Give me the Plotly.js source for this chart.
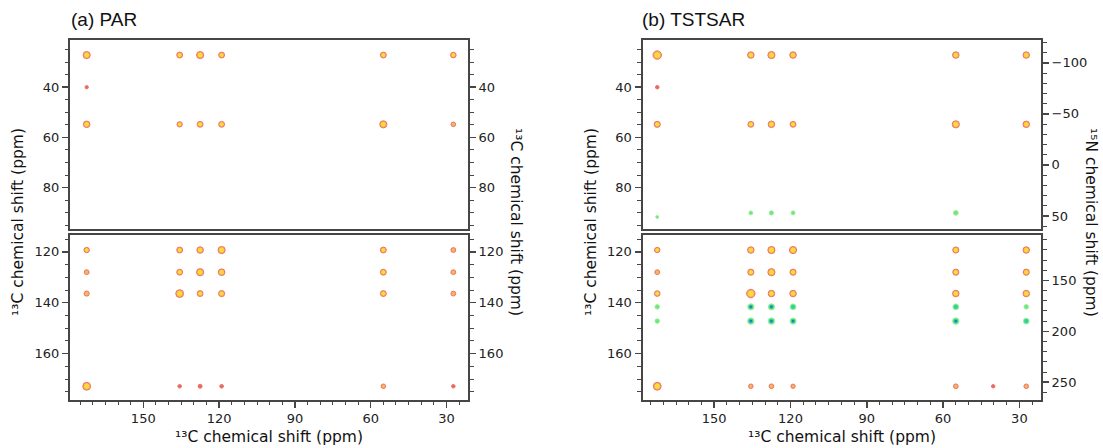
<!DOCTYPE html>
<html><head><meta charset="utf-8">
<script src="https://cdn.plot.ly/plotly-3.0.1.min.js"></script>
<style>html,body{margin:0;padding:0;background:#fff}#chart{width:1103px;height:448px}</style>
</head><body><div id="chart"></div>
<script>
// ---------------- data (ppm) ----------------
// (a) PAR, upper 13C window
const PAR_TOP_X = [172.4,135.6,127.5,119.0,55.0,27.3, 172.4, 172.4,135.6,127.5,119.0,55.0,27.3];
const PAR_TOP_Y = [27.2,27.2,27.2,27.2,27.2,27.2, 40.0, 54.8,54.8,54.8,54.8,54.8,54.8];
const PAR_TOP_I = [4,3,4,3,3,2.8, 1, 3.5,2.6,3,3,4,2];
// (a) PAR, lower 13C window
const PAR_BOT_X = [172.4,135.6,127.5,119.0,55.0,27.3, 172.4,135.6,127.5,119.0,55.0,27.3,
                   172.4,135.6,127.5,119.0,55.0,27.3, 172.4,135.6,127.5,119.0,55.0,27.3];
const PAR_BOT_Y = [119.3,119.3,119.3,119.3,119.3,119.3, 128.0,128.0,128.0,128.0,128.0,128.0,
                   136.4,136.4,136.4,136.4,136.4,136.4, 172.8,172.8,172.8,172.8,172.8,172.8];
const PAR_BOT_I = [2.6,3,3.5,4,3,2.2, 2.2,3,4,3.6,3,2.2, 2.4,4.5,3,3.2,3,2.2, 4.5,1.2,1.5,1.3,2,1.2];
// (b) TSTSAR, upper 13C window
const TST_TOP_X = [172.4,135.6,127.5,119.0,55.0,27.3, 172.4, 172.4,135.6,127.5,119.0,55.0,27.3];
const TST_TOP_Y = [27.2,27.2,27.2,27.2,27.2,27.2, 40.0, 54.8,54.8,54.8,54.8,54.8,54.8];
const TST_TOP_I = [5,3.5,4,3.5,3.5,3.5, 1.2, 3.2,3,3.5,3,4,3.5];
// (b) TSTSAR, 15N cross peaks, upper window (15N ppm)
const TST_TOP_N_X = [172.4,135.6,127.5,119.0,55.0];
const TST_TOP_N_Y = [51,47,47,47,47];
const TST_TOP_N_I = [0.8,1.5,1.8,1.6,2.2];
// (b) TSTSAR, lower 13C window
const TST_BOT_X = [172.4,135.6,127.5,119.0,55.0,27.3, 172.4,135.6,127.5,119.0,55.0,27.3,
                   172.4,135.6,127.5,119.0,55.0,27.3, 172.4,135.6,127.5,119.0,55.0,40.3,27.3];
const TST_BOT_Y = [119.3,119.3,119.3,119.3,119.3,119.3, 128.0,128.0,128.0,128.0,128.0,128.0,
                   136.4,136.4,136.4,136.4,136.4,136.4, 172.8,172.8,172.8,172.8,172.8,172.8,172.8];
const TST_BOT_I = [2.6,3.5,4,4,3.2,3.5, 2.2,3.2,4,3.2,3.2,3.2, 2.8,5,3.5,3.5,3.5,3.5, 4.5,2,2.1,1.8,2.1,1.1,2];
// (b) TSTSAR, 15N cross peaks, lower window (15N ppm)
const TST_BOT_N_X = [172.4,135.6,127.5,119.0,55.0,27.3, 172.4,135.6,127.5,119.0,55.0,27.3];
const TST_BOT_N_Y = [176,176,176,176,176,176, 190,190,190,190,190,190];
const TST_BOT_N_I = [2,3.3,3.3,3,3,2, 2,3.5,3.5,3.2,3.5,3];

// tick values and labels
const C_X_TICKS = [150,120,90,60,30];
const C_Y_TOP_TICKS = [40,60,80];
const C_Y_BOT_TICKS = [120,140,160];
const N_TOP_TICKS = [-100,-50,0,50];
const N_BOT_TICKS = [150,200,250];
const C_TITLE = '¹³C chemical shift (ppm)';
const N_TITLE = '¹⁵N chemical shift (ppm)';
const PANEL_TITLES = ['(a) PAR', '(b) TSTSAR'];

// ---------------- styling ----------------
const W = 1103, H = 448;
const FONT = 'DejaVu Sans, Liberation Sans, sans-serif';
const TFONT = 'Liberation Sans, Arial, sans-serif';
const fx = v => v / W, fy = v => 1 - v / H;
const LX = [fx(70), fx(468)], RX = [fx(642.5), fx(1041)];
const TOPD = [fy(229), fy(39.5)], BOTD = [fy(399.5), fy(234.5)];

const FIRE = {edge:'#dd2f1c', body:'#f7921e', core:'#fff01a'};
const NIT = {edge:'#6ee86e', body:'#33dd44', mid:'#15c6b8', core:'#1d55e6'};

const outerSize = v => 2 + 1.3 * v;

function fireOuter(x, y, I, xa, ya) {
  return {type:'scatter', mode:'markers', x:x, y:y, xaxis:xa, yaxis:ya, hoverinfo:'skip',
    marker:{symbol:'circle', size:I.map(outerSize),
            color:I.map(v => v < 1.8 ? FIRE.edge : FIRE.body),
            line:{color:FIRE.edge, width:0.9}}};
}
function fireCore(x, y, I, xa, ya) {
  return {type:'scatter', mode:'markers', x:x, y:y, xaxis:xa, yaxis:ya, hoverinfo:'skip',
    marker:{symbol:'circle', size:I.map(v => v >= 2.6 ? outerSize(v) * 0.62 : 0),
            color:FIRE.core, line:{width:0}}};
}
function nitTraces(x, y, I, xa, ya) {
  return [
    {type:'scatter', mode:'markers', x:x, y:y, xaxis:xa, yaxis:ya, hoverinfo:'skip',
     marker:{symbol:'circle', size:I.map(outerSize), color:NIT.body,
             line:{color:NIT.edge, width:0.8}}},
    {type:'scatter', mode:'markers', x:x, y:y, xaxis:xa, yaxis:ya, hoverinfo:'skip',
     marker:{symbol:'circle', size:I.map(v => v >= 2.8 ? outerSize(v) * 0.68 : 0), color:NIT.mid, line:{width:0}}},
    {type:'scatter', mode:'markers', x:x, y:y, xaxis:xa, yaxis:ya, hoverinfo:'skip',
     marker:{symbol:'circle', size:I.map(v => v >= 3.2 ? outerSize(v) * 0.42 : 0), color:NIT.core, line:{width:0}}}
  ];
}

const data = [
  fireOuter(PAR_TOP_X, PAR_TOP_Y, PAR_TOP_I, 'x3', 'y'),
  fireCore (PAR_TOP_X, PAR_TOP_Y, PAR_TOP_I, 'x3', 'y5'),
  fireOuter(PAR_BOT_X, PAR_BOT_Y, PAR_BOT_I, 'x', 'y2'),
  fireCore (PAR_BOT_X, PAR_BOT_Y, PAR_BOT_I, 'x', 'y6'),
  fireOuter(TST_TOP_X, TST_TOP_Y, TST_TOP_I, 'x4', 'y3'),
  fireCore (TST_TOP_X, TST_TOP_Y, TST_TOP_I, 'x4', 'y3'),
  fireOuter(TST_BOT_X, TST_BOT_Y, TST_BOT_I, 'x2', 'y4'),
  fireCore (TST_BOT_X, TST_BOT_Y, TST_BOT_I, 'x2', 'y4')
].concat(
  nitTraces(TST_TOP_N_X, TST_TOP_N_Y, TST_TOP_N_I, 'x4', 'y7'),
  nitTraces(TST_BOT_N_X, TST_BOT_N_Y, TST_BOT_N_I, 'x2', 'y8')
);

const base = {showline:true, linecolor:'#464646', linewidth:2, showgrid:false, zeroline:false,
              fixedrange:true, autorange:false};
const tk = (vals, minorD) => ({ticks:'outside', ticklen:6, tickwidth:1.5, tickcolor:'#464646',
  tickmode:'array', tickvals:vals, tickfont:{family:FONT, size:13, color:'#222'},
  minor:{ticks:'outside', ticklen:3.5, tickwidth:1, tickcolor:'#464646', dtick:minorD, tick0:0}});
const noTk = {ticks:'', showticklabels:false};

const XR_L = [179, 21.5], XR_R = [178.2, 21.5];
const YR_TOP = [96.5, 21], YR_BOT = [178, 113.2];
const NR_TOP = [62.8, -122.9], NR_BOT = [267, 104.9];

const ttl = {family:FONT, size:15.5, color:'#111'};
function ann(text, x, y, angle, font, xanchor) {
  return {text:text, x:fx(x), y:fy(y), xref:'paper', yref:'paper', textangle:angle || 0,
          xanchor:xanchor || 'center', yanchor:'middle', showarrow:false, font:font};
}

const layout = {
  width:W, height:H, margin:{l:0, r:0, t:0, b:0},
  paper_bgcolor:'#fff', plot_bgcolor:'rgba(0,0,0,0)', showlegend:false,
  xaxis: Object.assign({}, base, tk(C_X_TICKS, 5), {domain:LX, range:XR_L, anchor:'y2', mirror:true}),
  xaxis3:Object.assign({}, base, noTk, {domain:LX, range:XR_L, anchor:'y', mirror:true}),
  xaxis2:Object.assign({}, base, tk(C_X_TICKS, 5), {domain:RX, range:XR_R, anchor:'y4', mirror:true}),
  xaxis4:Object.assign({}, base, noTk, {domain:RX, range:XR_R, anchor:'y3', mirror:true}),
  yaxis: Object.assign({}, base, tk(C_Y_TOP_TICKS, 5), {domain:TOPD, range:YR_TOP, anchor:'x3'}),
  yaxis2:Object.assign({}, base, tk(C_Y_BOT_TICKS, 5), {domain:BOTD, range:YR_BOT, anchor:'x'}),
  yaxis3:Object.assign({}, base, tk(C_Y_TOP_TICKS, 5), {domain:TOPD, range:YR_TOP, anchor:'x4'}),
  yaxis4:Object.assign({}, base, tk(C_Y_BOT_TICKS, 5), {domain:BOTD, range:YR_BOT, anchor:'x2'}),
  yaxis5:Object.assign({}, base, tk(C_Y_TOP_TICKS, 5), {overlaying:'y', side:'right', range:YR_TOP, anchor:'x3'}),
  yaxis6:Object.assign({}, base, tk(C_Y_BOT_TICKS, 5), {overlaying:'y2', side:'right', range:YR_BOT, anchor:'x'}),
  yaxis7:Object.assign({}, base, tk(N_TOP_TICKS, 10), {overlaying:'y3', side:'right', range:NR_TOP, anchor:'x4'}),
  yaxis8:Object.assign({}, base, tk(N_BOT_TICKS, 10), {overlaying:'y4', side:'right', range:NR_BOT, anchor:'x2'}),
  annotations:[
    ann(PANEL_TITLES[0], 69, 20, 0, {family:TFONT, size:19, color:'#111'}, 'left'),
    ann(PANEL_TITLES[1], 640, 20, 0, {family:TFONT, size:19, color:'#111'}, 'left'),
    ann(C_TITLE, 269, 437, 0, ttl),
    ann(C_TITLE, 842, 437, 0, ttl),
    ann(C_TITLE, 18, 222, -90, ttl),
    ann(C_TITLE, 516, 222, 90, ttl),
    ann(C_TITLE, 591, 222, -90, ttl),
    ann(N_TITLE, 1091, 222, 90, ttl)
  ]
};

Plotly.newPlot('chart', data, layout, {staticPlot:true, displayModeBar:false});
</script></body></html>
